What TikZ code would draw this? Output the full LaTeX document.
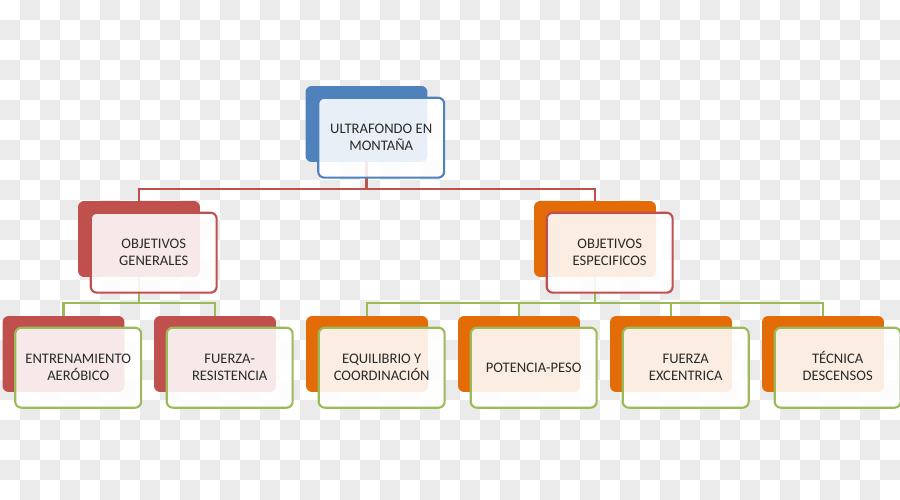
\documentclass[tikz,border=0pt]{standalone}
\usepackage{fontspec}
\setmainfont{Carlito}
\usepackage{tikz}
\usetikzlibrary{positioning, calc, backgrounds}

\definecolor{boxblue}{HTML}{4F81BD}
\definecolor{boxred}{HTML}{C0504D}
\definecolor{boxorange}{HTML}{E36C09}
\definecolor{boxgreen}{HTML}{9BBB59}
\definecolor{chk}{HTML}{EBEBEB}
\definecolor{txt}{HTML}{2A2A2A}

\tikzset{
	backbox/.style={rectangle, rounded corners=3.5pt, fill=#1, draw=none,
		minimum width=2.44cm, minimum height=1.52cm, inner sep=0pt},
	frontbox/.style={rectangle, rounded corners=3.5pt, draw=#1, line width=1.2pt,
		fill=white, fill opacity=0.88, text opacity=1, text=txt,
		minimum width=2.52cm, minimum height=1.60cm, inner sep=0pt,
		align=center, font=\fontsize{8.3}{9.7}\selectfont, anchor=north west},
	link/.style={line width=1.2pt, draw=#1}
}

\begin{document}
\begin{tikzpicture}[x=0.02cm, y=-0.02cm]
			\useasboundingbox (0,0) rectangle (900,500);
			
			% Checkerboard
			\begin{scope}[on background layer]
				\fill[white] (0,0) rectangle (900,500);
				\foreach \i in {0,...,44}{
					\foreach \j in {0,...,24}{
						\pgfmathtruncatemacro\k{mod(\i+\j,2)}
						\ifnum\k=1 \fill[chk] (\i*20,\j*20) rectangle ++(20,20);\fi
					}
				}
			\end{scope}
			
			% Top
			\node[backbox=boxblue] (topB) at (366.5,124) {};
			\node[frontbox=boxblue] (topF) at ([shift={(12,11)}]topB.north west) {ULTRAFONDO EN\\MONTAÑA};
			
			% Second level
			\node[backbox=boxred] (genB) at (139,239) {};
			\node[frontbox=boxred] (genF) at ([shift={(12,11)}]genB.north west) {OBJETIVOS\\GENERALES};
			
			\node[backbox=boxorange] (espB) at (595,239) {};
			\node[frontbox=boxred] (espF) at ([shift={(12,11)}]espB.north west) {OBJETIVOS\\ESPECIFICOS};
			
			% Third level
			\node[backbox=boxred] (entB) at (63.5,354) {};
			\node[frontbox=boxgreen] (entF) at ([shift={(12,11)}]entB.north west) {ENTRENAMIENTO\\AERÓBICO};
			
			\node[backbox=boxred] (resB) at (215,354) {};
			\node[frontbox=boxgreen] (resF) at ([shift={(12,11)}]resB.north west) {FUERZA-\\RESISTENCIA};
			
			\node[backbox=boxorange] (equB) at (367,354) {};
			\node[frontbox=boxgreen] (equF) at ([shift={(12,11)}]equB.north west) {EQUILIBRIO Y\\COORDINACIÓN};
			
			\node[backbox=boxorange] (potB) at (519,354) {};
			\node[frontbox=boxgreen] (potF) at ([shift={(12,11)}]potB.north west) {POTENCIA-PESO};
			
			\node[backbox=boxorange] (excB) at (671,354) {};
			\node[frontbox=boxgreen] (excF) at ([shift={(12,11)}]excB.north west) {FUERZA\\EXCENTRICA};
			
			\node[backbox=boxorange] (tecB) at (823,354) {};
			\node[frontbox=boxgreen] (tecF) at ([shift={(12,11)}]tecB.north west) {\smash{TÉCNICA}\vphantom{T}\\DESCENSOS};
			
			% Connectors
			\begin{scope}[on background layer]
				\coordinate (barA) at ($(topB.center |- topF.south)+(0,10)$);
				\foreach \c in {genB, espB}
				\draw[link=boxred] (topB.center) -- (barA) -| (\c.north);
				
				\coordinate (barB) at ($(genB.center |- genF.south)+(0,9)$);
				\foreach \c in {entB, resB}
				\draw[link=boxgreen] (genB.center) -- (barB) -| (\c.north);
				
				\coordinate (barC) at ($(espB.center |- espF.south)+(0,9)$);
				\foreach \c in {equB, potB, excB, tecB}
				\draw[link=boxgreen] (espB.center) -- (barC) -| (\c.north);
			\end{scope}
			
\end{tikzpicture}
\end{document}
